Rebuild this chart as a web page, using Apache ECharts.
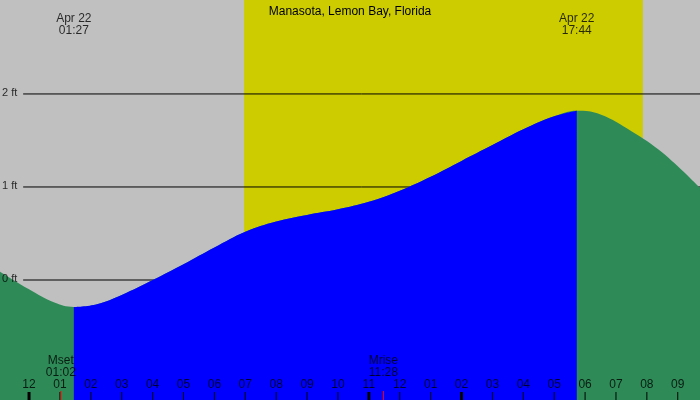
<!DOCTYPE html><html><head><meta charset="utf-8">
<script src="https://cdn.jsdelivr.net/npm/echarts@6/dist/echarts.min.js"></script>
<style>body{margin:0}#c{width:700px;height:400px}</style></head><body><div id="c"></div><script>
// hours from midnight Apr 22, tide height in ft
const tideHours=[-0.94,0,0.8,1.45,2.2,3.0,4.0,5.0,6.0,7.0,8.0,9.0,10.0,11.0,12.0,13.0,14.0,15.0,16.0,17.0,17.73,18.5,19.5,20.5,21.72];
const tideFeet=[0.09,-0.10,-0.24,-0.29,-0.26,-0.16,0.0,0.17,0.35,0.52,0.63,0.70,0.76,0.84,0.96,1.11,1.28,1.45,1.62,1.76,1.82,1.78,1.60,1.37,0.99];
const daylight=[6.96,19.87];
const hourTicks=[-1,0,1,2,3,4,5,6,7,8,9,10,11,12,13,14,15,16,17,18,19,20,21];
const hourLabels=['11','12','01','02','03','04','05','06','07','08','09','10','11','12','01','02','03','04','05','06','07','08','09'];
const boldTicks=[0,11,14];
const levelLines=[0,1,2];
const levelLabels=['0 ft','1 ft','2 ft'];
const extremes=[[1.45,'Apr 22\n01:27'],[17.73,'Apr 22\n17:44']];
const moonEvents=[[1.03,'Mset\n01:02'],[11.47,'Mrise\n11:28']];
const title='Manasota, Lemon Bay, Florida';

const t0=1.45,t1=17.73;
const all=tideHours.map((h,i)=>[h,tideFeet[i]]);
const blue=all.filter(p=>p[0]>=t0&&p[0]<=t1);
const XMIN=-0.94,XMAX=21.72,YMIN=-1.29,YMAX=3.01;
const font='Liberation Sans, Arial, sans-serif';
const chart=echarts.init(document.getElementById('c'));
const lvl=levelLines.map(v=>({type:'line',data:[[XMIN+0.75,v],[XMAX,v]],symbol:'none',z:1,silent:true,lineStyle:{color:'#000',width:1}}));
chart.setOption({
 backgroundColor:'#c0c0c0',animation:false,
 title:{text:title,left:'center',top:1,textStyle:{fontSize:12,fontWeight:'normal',color:'#000',fontFamily:font}},
 grid:{left:0,right:0,top:0,bottom:0},
 xAxis:{type:'value',min:XMIN,max:XMAX,show:false},
 yAxis:{type:'value',min:YMIN,max:YMAX,show:false},
 series:[
  {type:'line',data:[],z:0,silent:true,
   markArea:{silent:true,itemStyle:{color:'#cccc00'},data:[[{xAxis:daylight[0]},{xAxis:daylight[1]}]]}},
  ...lvl,
  {type:'line',data:all,smooth:0.4,symbol:'none',z:2,lineStyle:{width:0},areaStyle:{color:'#2e8b57',opacity:1,origin:'start'}},
  {type:'line',data:blue,smooth:0.4,symbol:'none',z:3,lineStyle:{width:0},areaStyle:{color:'#0000ff',opacity:1,origin:'start'}},
  {type:'scatter',z:5,symbolSize:0,silent:true,data:levelLines.map((v,i)=>[XMIN,v,levelLabels[i]]),
   label:{show:true,position:'right',distance:2,offset:[0,-1],formatter:p=>p.data[2],color:'#000',fontSize:11,fontFamily:font}},
  {type:'scatter',z:5,symbolSize:0,silent:true,data:hourTicks.map((h,i)=>[h,YMIN+(400-385)/93,hourLabels[i]]),
   label:{show:true,position:'inside',formatter:p=>p.data[2],color:'#000',fontSize:12,fontFamily:font}},
  {type:'scatter',z:5,symbolSize:0,silent:true,data:extremes.map(e=>[e[0],YMAX-25/93,e[1]]),
   label:{show:true,position:'inside',formatter:p=>p.data[2],color:'#000',fontSize:12,lineHeight:12,fontFamily:font}},
  {type:'scatter',z:5,symbolSize:0,silent:true,data:moonEvents.map(e=>[e[0],YMIN+(400-367)/93,e[1]]),
   label:{show:true,position:'inside',formatter:p=>p.data[2],color:'#000',fontSize:12,lineHeight:12,fontFamily:font}},
  {type:'custom',z:6,silent:true,data:hourTicks.map(h=>[h,boldTicks.includes(h)?1:0]).concat(moonEvents.map(e=>[e[0],2])),
   renderItem:(params,api)=>{const p=api.coord([api.value(0),YMIN]);const k=api.value(1);
    return {type:'line',shape:{x1:p[0],y1:p[1]-(k===2?9:8),x2:p[0],y2:p[1]},style:{stroke:k===2?'#ff0000':'#000',lineWidth:k===1?3:1}};}}
 ]});
</script></body></html>
